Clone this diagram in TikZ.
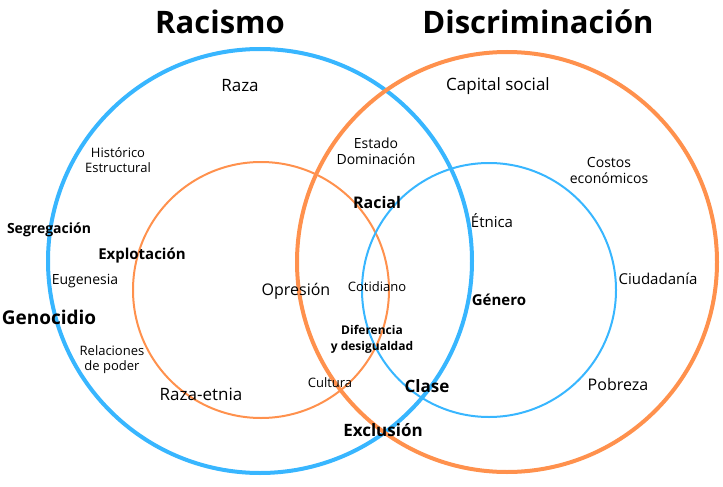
\documentclass[tikz,border=0pt]{standalone}
\usepackage{fontspec}
\setmainfont{Open Sans}
\definecolor{azul}{RGB}{56,182,255}
\definecolor{naranja}{RGB}{255,145,77}

\begin{document}
\begin{tikzpicture}[x=1pt,y=-1pt]
\tikzstyle{every node}+=[inner sep=0pt,align=center]
\tikzstyle{lbl}=[font=\fontsize{14}{16}\selectfont]
\tikzstyle{big}=[font=\fontsize{17}{19}\selectfont]
\tikzstyle{bold}=[font=\bfseries\fontsize{15}{17}\selectfont]
\useasboundingbox (0,0) rectangle (723,487);
\draw [azul,line width=4] (260,261) circle (212);
\draw [naranja,line width=4] (507,262) circle (210);
\draw [naranja,line width=2] (261,290) circle (128);
\draw [azul,line width=2] (489,290) circle (127);
\node (racismo) at (220,22) [font=\bfseries\fontsize{31}{33}\selectfont] {Racismo};
\node (discrim) at (538,22) [font=\bfseries\fontsize{31}{33}\selectfont] {Discriminación};
\node (raza) at (240,86) [big] {Raza};
\node (capital) at (498,86) [big] {Capital social};
\node (historico) at (118,160) [font=\fontsize{13}{15}\selectfont] {Histórico\\Estructural};
\node (estado) at (376,151) [lbl] {Estado\\Dominación};
\node (costos) at (609,170) [lbl] {Costos\\económicos};
\node (segreg) at (49,230) [font=\bfseries\fontsize{14}{16}\selectfont] {Segregación};
\node (racial) at (377,202) [font=\bfseries\fontsize{16}{18}\selectfont] {Racial};
\node (etnica) at (492,221) [font=\fontsize{15}{17}\selectfont] {Étnica};
\node (explot) at (142,256) [bold] {Explotación};
\node (eugen) at (85,281) [lbl] {Eugenesia};
\node (ciudad) at (658,279) [font=\fontsize{15}{17}\selectfont] {Ciudadanía};
\node (opresion) at (296,291) [font=\fontsize{16}{18}\selectfont] {Opresión};
\node (cotid) at (377,287) [font=\fontsize{13}{15}\selectfont] {Cotidiano};
\node (genero) at (499,300) [bold] {Género};
\node (genoc) at (49,317) [font=\bfseries\fontsize{19}{21}\selectfont] {Genocidio};
\node (difer) at (372,339) [font=\bfseries\fontsize{12}{16}\selectfont] {Diferencia\\y desigualdad};
\node (relac) at (112,360) [font=\fontsize{13}{15}\selectfont] {Relaciones\\de poder};
\node (razaet) at (201,394) [big] {Raza-etnia};
\node (cultura) at (330,383) [font=\fontsize{13}{15}\selectfont] {Cultura};
\node (clase) at (427,386) [font=\bfseries\fontsize{17}{19}\selectfont] {Clase};
\node (pobreza) at (618,384) [font=\fontsize{16}{18}\selectfont] {Pobreza};
\node (exclus) at (383,430) [font=\bfseries\fontsize{17}{19}\selectfont] {Exclusión};
\end{tikzpicture}
\end{document}
